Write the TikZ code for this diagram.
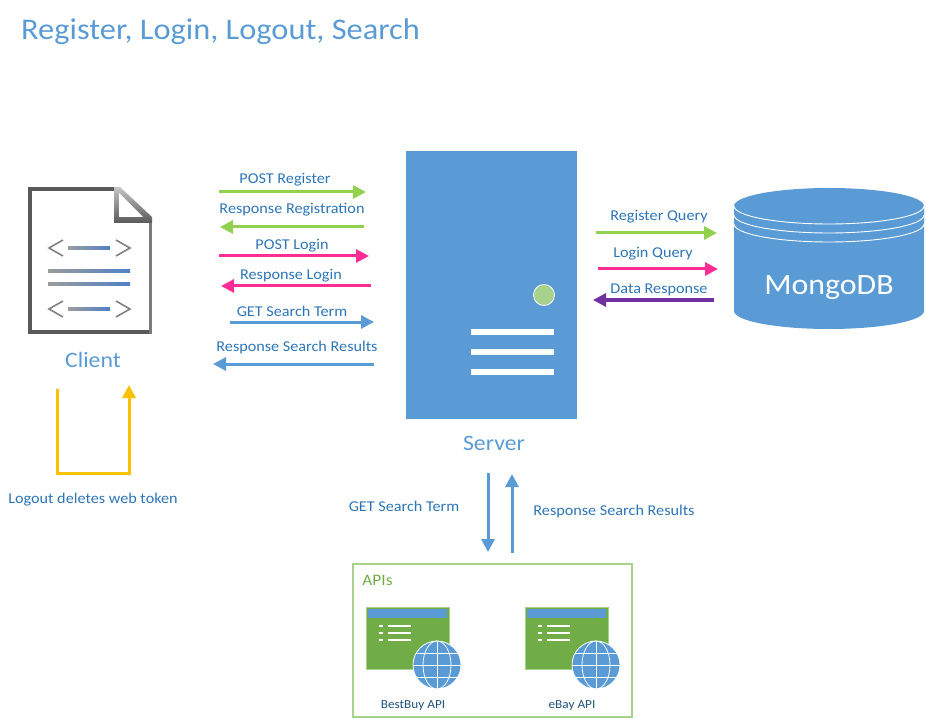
\documentclass[tikz,border=0pt]{standalone}
\usepackage{fontspec}
\setmainfont[FakeStretch=1.08]{Carlito}
\usetikzlibrary{arrows.meta}
\definecolor{skyblue}{HTML}{5B9BD5}
\definecolor{labelblue}{HTML}{2E75B6}
\definecolor{leaf}{HTML}{92D050}
\definecolor{hotpink}{HTML}{FF2C96}
\definecolor{plum}{HTML}{7030A0}
\definecolor{amber}{HTML}{FFC000}
\definecolor{moss}{HTML}{70AD47}
\definecolor{pale}{HTML}{A9D18E}
\definecolor{docgray}{HTML}{595959}
\definecolor{codeblue}{HTML}{4F81C7}
\newcommand\fs[1]{\fontsize{#1}{#1}\selectfont}
\tikzset{
  flow/.style = {line width = 3pt, -{Triangle[length=13pt,width=13pt]}},
  msg/.style = {inner sep = 0pt, text = labelblue, font = \fs{15}},
  big/.style = {inner sep = 0pt, text = skyblue, font = \fs{22}},
  codeline/.style = {left color = docgray!60, right color = codeblue, draw = none},
  chev/.style = {draw = gray, line width = 1.6pt},
  apiicon/.pic = {
    \fill[moss] (0,0) rectangle (83,62);
    \draw[pale] (0,0) rectangle (83,62);
    \fill[skyblue] (2,2) rectangle (81,11);
    \foreach \yy in {19,26,33} {
      \fill[white] (13,\yy-1) rectangle (17,\yy+1);
      \fill[white] (22,\yy-1) rectangle (45,\yy+1);
    }
    \fill[skyblue] (71,58) circle [radius=24];
    \begin{scope}[white, line width=0.8pt]
      \draw (71,58) circle [radius=24];
      \draw (71,58) circle [x radius=14, y radius=24];
      \draw (71,34) -- (71,82);
      \draw (47,58) -- (95,58);
      \draw (50,46) -- (92,46);
      \draw (50,70) -- (92,70);
    \end{scope}
  }
}
\begin{document}
\begin{tikzpicture}[x=1pt,y=-1pt]
\useasboundingbox (0,0) rectangle (926,719);
\node (title) [anchor=west, inner sep=0pt, text=skyblue, font=\fs{30}] at (21,32) {Register, Login, Logout, Search};

% client page
\draw[docgray, line width=4pt] (116,189) -- (30,189) -- (30,332) -- (151,332);
\draw[docgray!80, line width=3pt] (150,334) -- (150,221);
\shade[top color=gray!45, bottom color=docgray] (114,187) -- (120,187) -- (152,217) -- (152,223) -- (114,223) -- cycle;
\fill[white] (119,193) -- (119,217) -- (143,217) -- cycle;
\draw[chev] (63,240) -- (49,248) -- (63,256);
\draw[chev] (116,240) -- (130,248) -- (116,256);
\fill[codeline] (68,247) rectangle (110,250);
\fill[codeline] (48,270) rectangle (130,273);
\fill[codeline] (48,283) rectangle (130,286);
\draw[chev] (63,301) -- (49,309) -- (63,317);
\draw[chev] (116,301) -- (130,309) -- (116,317);
\fill[codeline] (68,307) rectangle (110,310);
\node (client) [big] at (93,360) {Client};

% logout loop
\coordinate (logoutA) at (57,389);
\coordinate (logoutB) at (129,385);
\draw[flow, amber, line join=miter] (logoutA) |- (129,473) -- (logoutB);
\node (logout) [msg] at (93,499.5) {Logout deletes web token};

% server
\node (server) [fill=skyblue, minimum width=171pt, minimum height=268pt, inner sep=0pt] at (491.5,285) {};
\filldraw[fill=pale, draw=white, line width=0.8pt] (544,295) circle [radius=10.5];
\foreach \yy in {332,352,372}
  \fill[white] (471,\yy-3) rectangle (554,\yy+3);
\node (serverlabel) [big] at (494,443) {Server};

% client <-> server
\coordinate (regA) at (219,192);
\coordinate (regB) at (366,192);
\coordinate (regC) at (364,227);
\coordinate (regD) at (220,227);
\coordinate (logA) at (219,256);
\coordinate (logB) at (369,256);
\coordinate (logC) at (371,286);
\coordinate (logD) at (221,286);
\coordinate (getA) at (230,322);
\coordinate (getB) at (374,322);
\coordinate (resA) at (374,364);
\coordinate (resB) at (213,364);
\draw[flow, leaf] (regA) -- (regB);
\draw[flow, leaf] (regC) -- (regD);
\draw[flow, hotpink] (logA) -- (logB);
\draw[flow, hotpink] (logC) -- (logD);
\draw[flow, skyblue] (getA) -- (getB);
\draw[flow, skyblue] (resA) -- (resB);
\node (postreg) [msg] at (285,180) {POST Register};
\node (respreg) [msg] at (292,210) {Response Registration};
\node (postlog) [msg] at (292,246) {POST Login};
\node (resplog) [msg] at (291,276) {Response Login};
\node (getterm) [msg] at (292,311) {GET Search Term};
\node (respres) [msg] at (297,348) {Response Search Results};

% database
\fill[skyblue] (734,206) arc [start angle=180, end angle=360, x radius=95, y radius=18]
  -- (924,311) arc [start angle=0, end angle=180, x radius=95, y radius=18] -- cycle;
\foreach \yy in {206,215,224}
  \draw[white, line width=0.9pt] (734,\yy) arc [start angle=180, end angle=0, x radius=95, y radius=18];
\node (mongo) [inner sep=0pt, text=white, font=\fs{29.5}] at (829,288) {MongoDB};

% server <-> database
\coordinate (dbA) at (596,233);
\coordinate (dbB) at (717,233);
\coordinate (dbC) at (598,269);
\coordinate (dbD) at (718,269);
\coordinate (dbE) at (714,300);
\coordinate (dbF) at (593,300);
\draw[flow, leaf] (dbA) -- (dbB);
\draw[flow, hotpink] (dbC) -- (dbD);
\draw[flow, plum] (dbE) -- (dbF);
\node (regquery) [msg] at (659,217) {Register Query};
\node (logquery) [msg] at (653,254) {Login Query};
\node (dataresp) [msg] at (659,290) {Data Response};

% server <-> apis
\coordinate (apiA) at (488,473);
\coordinate (apiB) at (488,552);
\coordinate (apiC) at (512,553);
\coordinate (apiD) at (512,474);
\draw[flow, skyblue] (apiA) -- (apiB);
\draw[flow, skyblue] (apiC) -- (apiD);
\node (apiget) [msg] at (404,506) {GET Search Term};
\node (apires) [msg] at (614,511.5) {Response Search Results};

% apis
\draw[pale, line width=1.3pt] (353,564) rectangle (632,717);
\node (apis) [inner sep=0pt, text=moss, font=\fs{16}] at (377.5,580) {APIs};
\pic at (366,607) {apiicon};
\pic at (525,607) {apiicon};
\node (bestbuy) [inner sep=0pt, text=labelblue!70!black, font=\fs{12.3}] at (413,705.5) {BestBuy API};
\node (ebay) [inner sep=0pt, text=labelblue!70!black, font=\fs{12.3}] at (572,705.5) {eBay API};
\end{tikzpicture}
\end{document}
